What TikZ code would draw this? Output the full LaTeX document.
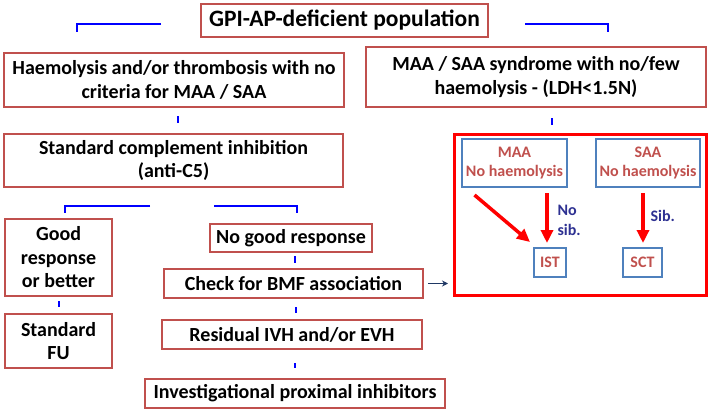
\documentclass[tikz,border=0pt]{standalone}
\usepackage{fontspec}
\setmainfont{Carlito}
\usepackage{xcolor}
\usetikzlibrary{arrows.meta,positioning,calc}
\definecolor{boxred}{HTML}{C0504D}
\definecolor{boxblue}{HTML}{4F81BD}
\definecolor{labblue}{HTML}{2E3192}
\definecolor{navyline}{HTML}{1F3864}

\begin{document}
\begin{tikzpicture}[x=1pt,y=-1pt,
		redbox/.style={draw=boxred, line width=2pt, fill=white, align=center, inner sep=1pt, font=\fontsize{20}{23.5}\selectfont\bfseries},
		bluebox/.style={draw=boxblue, line width=2pt, fill=white, align=center, inner sep=1pt, text=boxred, font=\fontsize{16}{18.5}\selectfont\bfseries},
		bracket/.style={draw=blue, line width=2pt},
		tickline/.style={draw=blue, line width=2pt},
		redarrow/.style={draw=red, line width=3.5pt, -{Triangle[length=13pt,width=12pt]}},
		sublabel/.style={text=labblue, align=left, anchor=west, font=\fontsize{16}{20}\selectfont\bfseries}]
		\useasboundingbox (0,0) rectangle (709,412);

		% left column
		\node[redbox, minimum width=287, minimum height=33, font=\fontsize{23.5}{27}\selectfont\bfseries] (title) at (344.5,20.5) {GPI-AP-deficient population};
		\node[redbox, minimum width=340, minimum height=54] (hae) at (174,80) {Haemolysis and/or thrombosis with no\\criteria for MAA / SAA};
		\node[redbox, minimum width=340, minimum height=60] (mds) at (536,77) {MAA / SAA syndrome with no/few\\haemolysis - (LDH<1.5N)};
		\node[redbox, minimum width=339, minimum height=53] (sci) at (173.5,160.5) {Standard complement inhibition\\(anti-C5)};
		\node[redbox, minimum width=107, minimum height=77] (good) at (58.5,257.5) {Good\\response\\or better};
		\node[redbox, minimum width=107, minimum height=54] (sfu) at (58.5,341) {Standard\\FU};

		% right branch
		\node[redbox, minimum width=162, minimum height=28] (ngr) at (291,238) {No good response};
		\node[redbox, minimum width=259, minimum height=29] (chk) at (293.5,283.5) {Check for BMF association};
		\node[redbox, minimum width=260, minimum height=29] (res) at (292,334.5) {Residual IVH and/or EVH};
		\node[redbox, minimum width=300, minimum height=29] (inv) at (295,393.5) {Investigational proximal inhibitors};

		% BMF box
		\node[draw=red, line width=3pt, minimum width=252, minimum height=161, inner sep=0pt] (bmf) at (580.5,215) {};
		\node[bluebox, minimum width=105, minimum height=48] (maa) at (514.5,163) {MAA\\No haemolysis};
		\node[bluebox, minimum width=104, minimum height=48] (saa) at (648,163) {SAA\\No haemolysis};
		\node[bluebox, minimum width=32, minimum height=29] (ist) at (550,262.5) {IST};
		\node[bluebox, minimum width=39, minimum height=29] (sct) at (642.5,262.5) {SCT};
		\node[sublabel] (nosib) at (554,220) {No\\sib.};
		\node[sublabel] (sib) at (647,216) {Sib.};

		% brackets
		\coordinate (b1a) at (161,24);
		\coordinate (b1b) at (77,32);
		\coordinate (b2a) at (525,24);
		\coordinate (b2b) at (608,32);
		\coordinate (b3a) at (150,206);
		\coordinate (b3b) at (65,213);
		\coordinate (b4a) at (214,206);
		\coordinate (b4b) at (297,213);
		\draw[bracket] (b1a) -| (b1b);
		\draw[bracket] (b2a) -| (b2b);
		\draw[bracket] (b3a) -| (b3b);
		\draw[bracket] (b4a) -| (b4b);

		% ticks
		\draw[tickline, shorten <=8pt, shorten >=10pt] ([xshift=4pt]hae.south) -- ([xshift=4pt]hae.south |- sci.north);
		\draw[tickline, shorten <=10pt, shorten >=8pt] ([xshift=16pt]mds.south) -- ([xshift=16pt]mds.south |- bmf.north);
		\draw[tickline, shorten <=4pt, shorten >=6pt] (good.south) -- (good.south |- sfu.north);
		\draw[tickline, shorten <=3pt, shorten >=5pt] ([xshift=4pt]ngr.south) -- ([xshift=4pt]ngr.south |- chk.north);
		\draw[tickline, shorten <=8pt, shorten >=6pt] ([xshift=2pt]chk.south) -- ([xshift=2pt]chk.south |- res.north);
		\draw[tickline, shorten <=13pt, shorten >=10pt] ([xshift=3pt]res.south) -- ([xshift=3pt]res.south |- inv.north);

		% arrows
		\draw[navyline, line width=1.5pt, -{Stealth[length=6pt,width=6pt]}, shorten <=4pt, shorten >=5pt] (chk.east) -- (chk.east -| bmf.west);
		\draw[redarrow] ($(maa.south)+(-40,7)$) -- ($(ist.north west)+(-3,-5)$);
		\draw[redarrow] ($(ist.north |- maa.south)+(-3,5)$) -- ($(ist.north)+(-3,-4)$);
		\draw[redarrow] ($(sct.north |- saa.south)+(0.5,5)$) -- ($(sct.north)+(0.5,-4)$);
	\end{tikzpicture}
\end{document}
